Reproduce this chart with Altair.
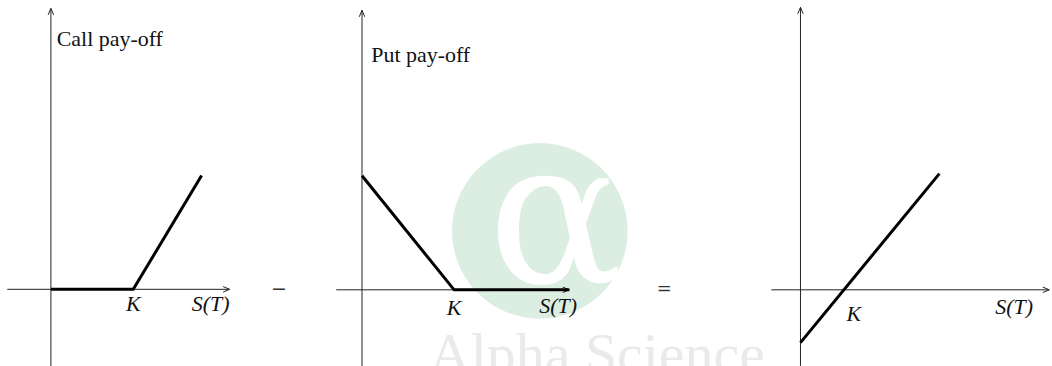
import altair as alt
import pandas as pd

# Pay-off profiles at expiry, in units of the strike (K = 1)
call_S = [0.0, 1.0, 1.83]
call_payoff = [0.0, 0.0, 0.83]
put_S = [0.0, 1.0, 2.25]
put_payoff = [1.0, 0.0, 0.0]
diff_S = [0.0, 3.2]
diff_payoff = [-1.0, 2.2]

# Axis extents per panel (S range of the horizontal axis, pay-off range of the vertical axis)
call_axis_S = [-0.53, 2.17]
call_axis_payoff = [-0.56, 2.05]
put_axis_S = [-0.28, 2.25]
put_axis_payoff = [-0.67, 2.45]
diff_axis_S = [-0.67, 5.73]
diff_axis_payoff = [-1.44, 5.35]

# Panel geometry: width, origin (px from left/top) and pixels per unit on each axis
H = 366
panels = {
    "call": dict(width=300, origin=(51, 289.5), unit=(82.5, 137.3)),
    "put": dict(width=320, origin=(62.7, 290), unit=(92.3, 114.3)),
    "diff": dict(width=432, origin=(182, 290), unit=(43.5, 52.9)),
}

FONT = "Liberation Serif"
ARROW_RIGHT = "M-1.3,-0.55L0,0L-1.3,0.55"
ARROW_UP = "M-0.55,1.3L0,0L0.55,1.3"


def scales(name):
    p = panels[name]
    ox, oy = p["origin"]
    ux, uy = p["unit"]
    xs = alt.Scale(domain=[-ox / ux, (p["width"] - ox) / ux], nice=False, zero=False)
    ys = alt.Scale(domain=[-(H - oy) / uy, oy / uy], nice=False, zero=False)
    return xs, ys


def axes(name, s_range, p_range):
    xs, ys = scales(name)
    hx = pd.DataFrame({"S": [s_range[0]], "S2": [s_range[1]], "payoff": [0.0]})
    vy = pd.DataFrame({"S": [0.0], "payoff": [p_range[0]], "payoff2": [p_range[1]]})
    h_rule = alt.Chart(hx).mark_rule(color="#222", strokeWidth=1).encode(
        x=alt.X("S:Q", scale=xs, axis=None), x2="S2:Q",
        y=alt.Y("payoff:Q", scale=ys, axis=None))
    v_rule = alt.Chart(vy).mark_rule(color="#222", strokeWidth=1).encode(
        x=alt.X("S:Q", scale=xs, axis=None),
        y=alt.Y("payoff:Q", scale=ys, axis=None), y2="payoff2:Q")
    tip_r = alt.Chart(pd.DataFrame({"S": [s_range[1]], "payoff": [0.0]})).mark_point(
        shape=ARROW_RIGHT, size=100, filled=False, color="#222",
        strokeWidth=1, opacity=1).encode(
        x=alt.X("S:Q", scale=xs, axis=None), y=alt.Y("payoff:Q", scale=ys, axis=None))
    tip_u = alt.Chart(pd.DataFrame({"S": [0.0], "payoff": [p_range[1]]})).mark_point(
        shape=ARROW_UP, size=100, filled=False, color="#222",
        strokeWidth=1, opacity=1).encode(
        x=alt.X("S:Q", scale=xs, axis=None), y=alt.Y("payoff:Q", scale=ys, axis=None))
    return [h_rule, v_rule, tip_r, tip_u]


def payoff_line(name, s, v):
    xs, ys = scales(name)
    df = pd.DataFrame({"S": s, "payoff": v, "i": list(range(len(s)))})
    return alt.Chart(df).mark_line(color="black", strokeWidth=3, strokeJoin="miter",
                                   strokeCap="butt").encode(
        x=alt.X("S:Q", scale=xs, axis=None),
        y=alt.Y("payoff:Q", scale=ys, axis=None),
        order="i:O")


def labels(name, rows, **style):
    xs, ys = scales(name)
    df = pd.DataFrame(rows, columns=["S", "payoff", "text"])
    base = dict(font=FONT, fontSize=22, color="#111")
    base.update(style)
    return alt.Chart(df).mark_text(**base).encode(
        x=alt.X("S:Q", scale=xs, axis=None),
        y=alt.Y("payoff:Q", scale=ys, axis=None),
        text="text:N")


# Left panel: long call
call = alt.layer(
    *axes("call", call_axis_S, call_axis_payoff),
    payoff_line("call", call_S, call_payoff),
    labels("call", [(0.07, 1.773, "Call pay-off")], align="left", baseline="alphabetic"),
    labels("call", [(1.0, -0.16, "K"), (1.94, -0.16, "S(T)")],
           align="center", baseline="alphabetic", fontStyle="italic"),
    labels("call", [(2.77, 0.0, "\u2212")], align="center", baseline="middle",
           fontSize=19, font="DejaVu Serif", color="#333"),
).properties(width=panels["call"]["width"], height=H)

# Middle panel: long put, with the publisher mark behind it
put_xs, put_ys = scales("put")
logo = pd.DataFrame({"S": [1.93], "payoff": [0.516]})
disc = alt.Chart(logo).mark_point(shape="circle", size=176 ** 2, filled=True,
                                  color="#dceee2", opacity=1).encode(
    x=alt.X("S:Q", scale=put_xs, axis=None), y=alt.Y("payoff:Q", scale=put_ys, axis=None))
alpha = labels("put", [(2.1, 0.06, "\u03b1")], align="center", baseline="alphabetic",
               fontSize=200, font="DejaVu Serif", color="white")
brand = labels("put", [(2.55, -0.73, "Alpha Science")], align="center",
               baseline="alphabetic", fontSize=58, color="#eaeaea")

put = alt.layer(
    disc, alpha, brand,
    *axes("put", put_axis_S, put_axis_payoff),
    payoff_line("put", put_S, put_payoff),
    labels("put", [(0.1, 2.0, "Put pay-off")], align="left", baseline="alphabetic"),
    labels("put", [(1.0, -0.22, "K"), (2.13, -0.20, "S(T)")],
           align="center", baseline="alphabetic", fontStyle="italic"),
).properties(width=panels["put"]["width"], height=H)

# Right panel: call minus put = S(T) - K
diff = alt.layer(
    *axes("diff", diff_axis_S, diff_axis_payoff),
    payoff_line("diff", diff_S, diff_payoff),
    labels("diff", [(1.23, -0.59, "K"), (4.92, -0.45, "S(T)")],
           align="center", baseline="alphabetic", fontStyle="italic"),
    labels("diff", [(-3.14, 0.0, "=")], align="center", baseline="middle",
           fontSize=18, font="DejaVu Serif", color="#333"),
).properties(width=panels["diff"]["width"], height=H)

chart = alt.hconcat(call, put, diff, spacing=0, bounds="flush").properties(
    padding=0
).configure_view(stroke=None)

chart.save("out.html", embed_options={"renderer": "svg", "actions": False})
